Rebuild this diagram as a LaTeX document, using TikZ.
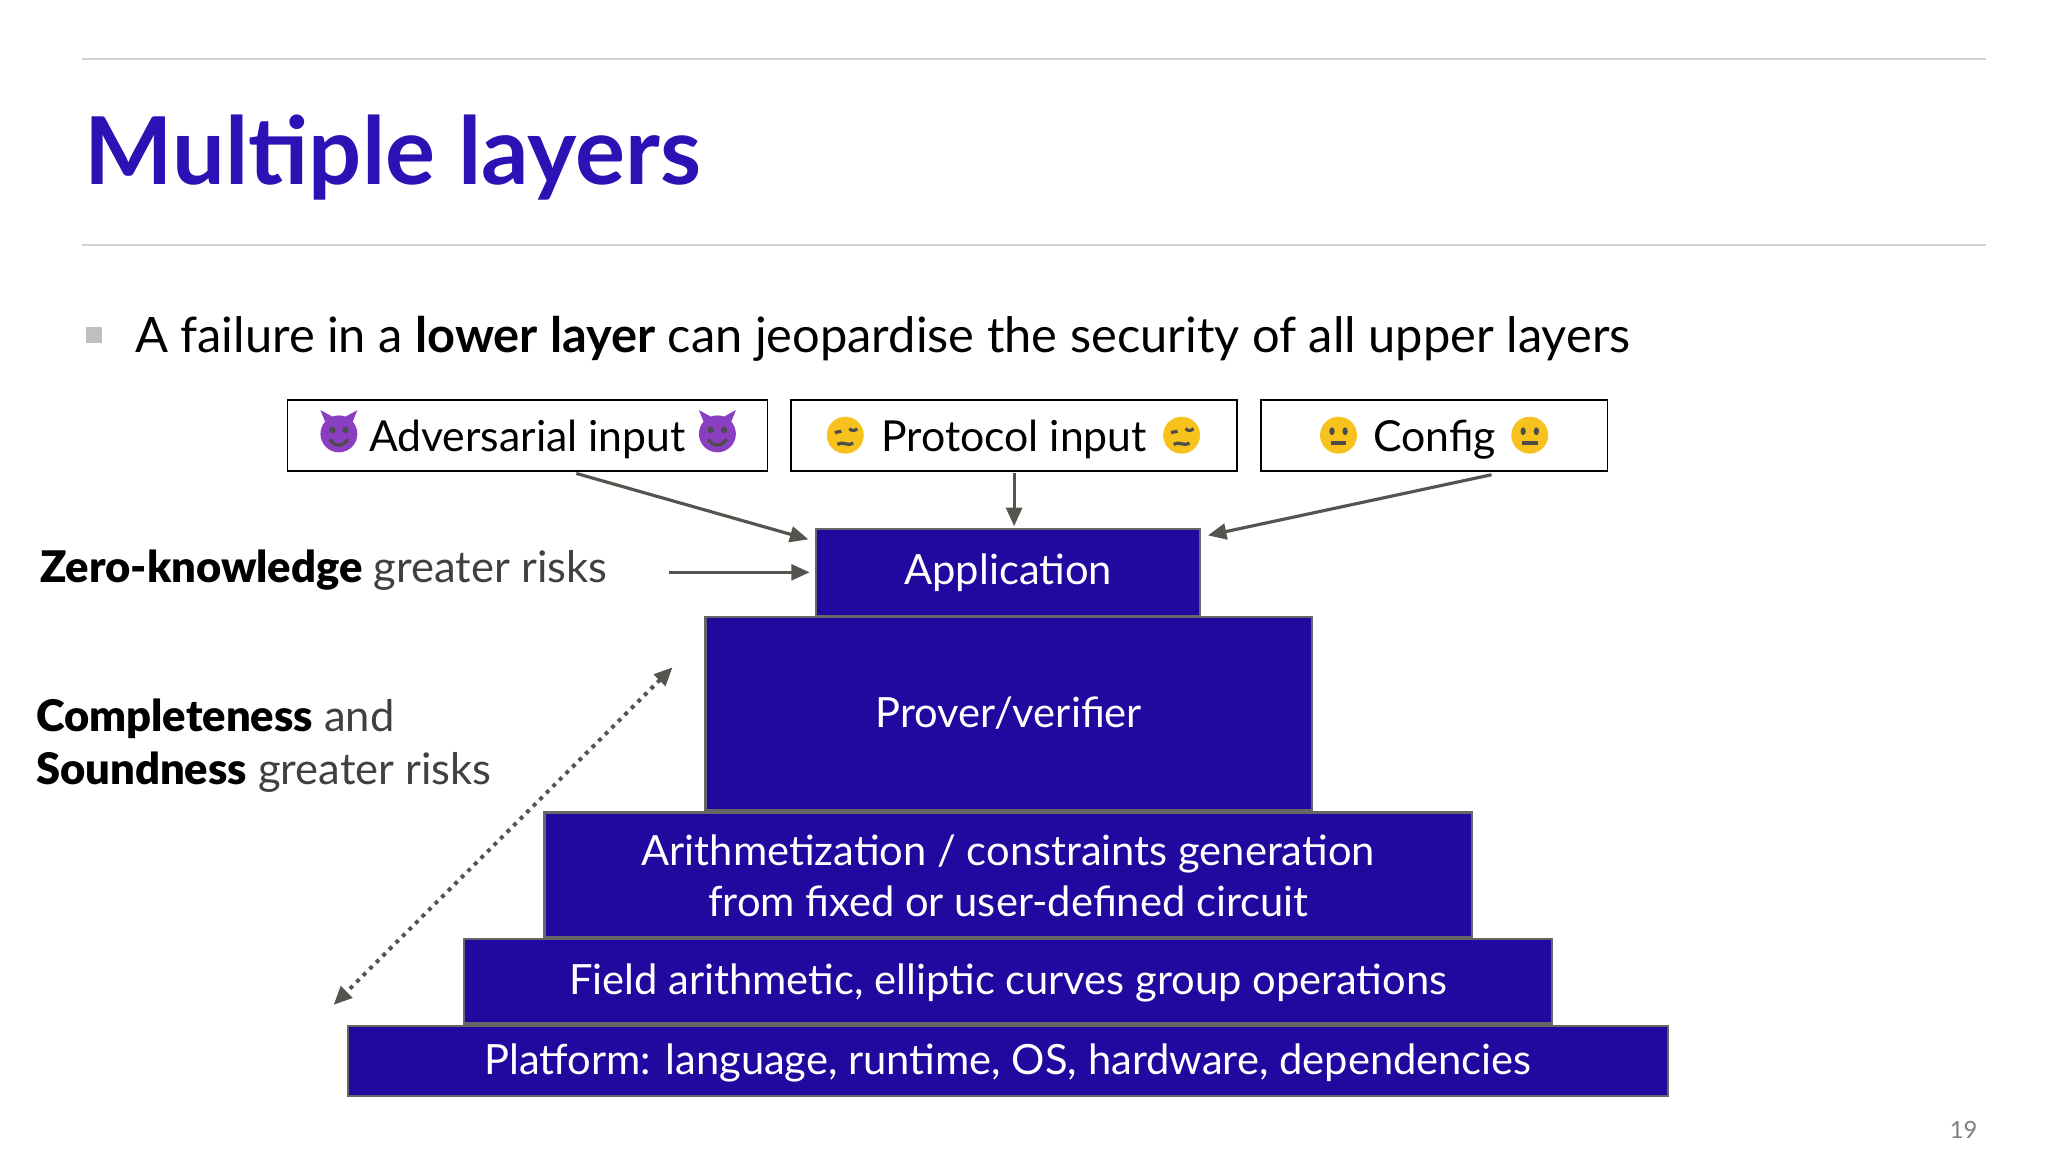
\documentclass[tikz,border=0pt]{standalone}
\usepackage{fontspec}
\setmainfont{Lato}
\usetikzlibrary{arrows.meta}
\definecolor{titleblue}{HTML}{2A12B4}
\definecolor{layer}{HTML}{22089E}
\definecolor{arr}{HTML}{555550}
\definecolor{devil}{HTML}{8A3FC0}
\definecolor{emo}{HTML}{F7C21E}
\tikzset{
  inbox/.style={draw=black,line width=0.7pt,fill=white},
  lay/.style={draw=gray!80!black,line width=0.9pt,fill=layer},
  laytext/.style={text=white,font=\fontsize{15.8}{19.5}\selectfont,align=center},
  boxtext/.style={font=\fontsize{16.2}{19}\selectfont,anchor=base},
  conn/.style={draw=arr,line width=1.2pt,-{Triangle[length=7pt,width=6pt]}},
  pics/devilface/.style={code={
    \fill[devil] (-10,-8) -- (-14,-18) -- (-3,-12) -- cycle;
    \fill[devil] (10,-8) -- (14,-18) -- (3,-12) -- cycle;
    \fill[devil] (0,0) circle (14);
    \fill[black!70] (-5,-3) circle (2.5) (5,-3) circle (2.5);
    \draw[black!70,line width=1.2pt] (-7,4) .. controls (-3,10) and (3,10) .. (7,4);}},
  pics/woozy/.style={code={
    \fill[emo] (0,0) circle (14);
    \draw[black!70,line width=1.2pt] (-8,-2) -- (-3,-3) (3,-5) .. controls (5,-3) and (7,-3) .. (9,-5);
    \draw[black!70,line width=1.2pt] (-6,7) .. controls (-2,4) and (2,9) .. (6,6);}},
  pics/neutral/.style={code={
    \fill[emo] (0,0) circle (14);
    \fill[black!70] (-5,-3) ellipse (2 and 3) (5,-3) ellipse (2 and 3);
    \draw[black!70,line width=1.3pt] (-6,6) -- (6,6);}},
}
\begin{document}
\begin{tikzpicture}[x=0.5pt,y=-0.5pt]
\useasboundingbox (0,0) rectangle (1553,873);
\fill[white] (0,0) rectangle (1553,873);
\draw[gray!35,line width=0.8pt] (62,45) -- (1506,45) (62,186) -- (1506,186);
\node[anchor=base west,inner sep=0,text=titleblue,font=\fontsize{35.5}{40}\selectfont\bfseries] (title) at (64,140) {Multiple layers};
\fill[gray!50] (65,248) rectangle (77,260);
\node[anchor=base west,inner sep=0,font=\fontsize{18.5}{22}\selectfont] (bullet) at (102,267) {A failure in a \textbf{lower layer} can jeopardise the security of all upper layers};
% input boxes
\draw[inbox] (218,303) rectangle (582,357);
\node[boxtext] (adv) at (400,342) {Adversarial input};
\draw[inbox] (600,303) rectangle (938,357);
\node[boxtext] (prot) at (769,342) {Protocol input};
\draw[inbox] (956,303) rectangle (1219,357);
\node[boxtext] (conf) at (1088,342) {Config};
\pic at (257,329) {devilface};
\pic at (544,329) {devilface};
\pic at (641,330) {woozy};
\pic at (896,330) {woozy};
\pic at (1015,330) {neutral};
\pic at (1160,330) {neutral};
\coordinate (a1) at (437,359);
\coordinate (a2) at (769,359);
\coordinate (a3) at (1131,360);
% layers
\draw[lay] (264,778) rectangle (1265,831);
\draw[lay] (352,712) rectangle (1177,776);
\draw[lay] (413,616) rectangle (1116,711);
\draw[lay] (535,468) rectangle (995,614);
\draw[lay] (619,401) rectangle (910,467);
\node[laytext] (app) at (764.5,434) {Application};
\node[laytext] (prov) at (765,541) {Prover/verifier};
\node[laytext] (arith) at (764.5,664) {Arithmetization / constraints generation\\from fixed or user-defined circuit};
\node[laytext] (field) at (764.5,745) {Field arithmetic, elliptic curves group operations};
\node[laytext] (plat) at (764.5,806) {Platform: language, runtime, OS, hardware, dependencies};
\coordinate (t1) at (613,409);
\coordinate (t2) at (769,399);
\coordinate (t3) at (916,406);
\draw[conn] (a1) -- (t1);
\draw[conn] (a2) -- (t2);
\draw[conn] (a3) -- (t3);
% left labels
\node[anchor=base west,inner sep=0,font=\fontsize{16.5}{20}\selectfont] (zk) at (30,442) {{\fontspec{Lato Black}Zero-knowledge} \textcolor{black!75}{greater risks}};
\coordinate (zs) at (507,434);
\coordinate (ze) at (614,434);
\draw[conn] (zs) -- (ze);
\node[anchor=base west,inner sep=0,font=\fontsize{16.5}{20}\selectfont] (cs) at (27,555) {{\fontspec{Lato Black}Completeness} \textcolor{black!75}{and}};
\node[anchor=base west,inner sep=0,font=\fontsize{16.5}{20}\selectfont] (sd) at (27,595) {{\fontspec{Lato Black}Soundness} \textcolor{black!75}{greater risks}};
\coordinate (d1) at (510,506);
\coordinate (d2) at (253,762);
\draw[arr,line width=1.5pt,dotted,{Triangle[length=7pt,width=6pt]}-{Triangle[length=7pt,width=6pt]}] (d1) -- (d2);
\node[text=gray,font=\fontsize{9}{10}\selectfont\rmfamily] (pg) at (1489,857) {19};
\end{tikzpicture}
\end{document}
